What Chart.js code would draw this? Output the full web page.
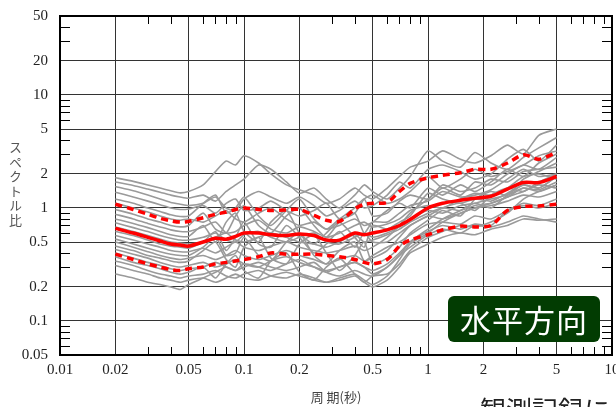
<!DOCTYPE html>
<html>
<head>
<meta charset="utf-8">
<script src="https://cdn.jsdelivr.net/npm/chart.js@4.4.1/dist/chart.umd.min.js"></script>
<style>
body{margin:0;background:#fff;}
#wrap{position:relative;width:616px;height:407px;overflow:hidden;background:#fff;}
#chartSpektrum{position:absolute;left:0;top:0;}
#yTitle{position:absolute;left:6px;top:141px;writing-mode:vertical-rl;font-family:"Noto Sans CJK JP";font-size:13px;letter-spacing:1.5px;color:#555;line-height:18px;}
#label{position:absolute;left:448px;top:296px;width:152px;height:46px;background:#023c02;border-radius:6px;color:#fff;font-family:"Noto Sans CJK JP";font-size:31px;line-height:46px;text-align:center;letter-spacing:1px;}
#note{position:absolute;left:480px;top:394px;font-family:"Noto Sans CJK JP";font-size:26px;line-height:30px;color:#222;white-space:nowrap;}
</style>
</head>
<body>
<div id="wrap">
<canvas id="chartSpektrum" width="616" height="407"></canvas>
<div id="yTitle">スペクトル比</div>
<div id="label">水平方向</div>
<div id="note">観測記録に</div>
</div>
<script>
/* ==========================
   スペクトル比 (水平方向)
========================== */

// --- axes
const tickX = [0.01, 0.02, 0.05, 0.1, 0.2, 0.5, 1, 2, 5, 10];
const labelX = ["0.01", "0.02", "0.05", "0.1", "0.2", "0.5", "1", "2", "5", "10"];
const tickY = [0.05, 0.1, 0.2, 0.5, 1, 2, 5, 10, 20, 50];
const labelY = ["0.05", "0.1", "0.2", "0.5", "1", "2", "5", "10", "20", "50"];
const minorX = [0.03, 0.04, 0.06, 0.07, 0.08, 0.09, 0.3, 0.4, 0.6, 0.7, 0.8, 0.9, 3, 4, 6, 7, 8, 9];
const minorY = [0.06, 0.07, 0.08, 0.09, 0.3, 0.4, 0.6, 0.7, 0.8, 0.9, 3, 4, 6, 7, 8, 9, 30, 40];

// --- periods (sec)
const periods = [0.02, 0.025, 0.03, 0.035, 0.04, 0.045, 0.05, 0.06, 0.07, 0.08, 0.09, 0.1, 0.12, 0.14, 0.17, 0.2, 0.24, 0.28, 0.33, 0.4, 0.45, 0.5, 0.6, 0.7, 0.8, 1.0, 1.2, 1.5, 1.8, 2.2, 2.7, 3.3, 4.0, 5.0];

// --- mean and mean +/- sigma
const meanRatio  = [0.66, 0.60, 0.55, 0.51, 0.48, 0.47, 0.46, 0.50, 0.54, 0.53, 0.56, 0.60, 0.60, 0.58, 0.57, 0.59, 0.57, 0.52, 0.52, 0.60, 0.58, 0.60, 0.64, 0.70, 0.79, 1.00, 1.10, 1.17, 1.22, 1.27, 1.47, 1.68, 1.68, 1.90];
const upperRatio = [1.08, 0.97, 0.88, 0.81, 0.77, 0.75, 0.76, 0.82, 0.88, 0.92, 0.97, 1.00, 0.97, 0.95, 0.96, 0.97, 0.86, 0.78, 0.76, 0.98, 1.08, 1.10, 1.12, 1.40, 1.65, 1.85, 1.95, 2.05, 2.20, 2.20, 2.50, 2.95, 2.70, 3.10];
const lowerRatio = [0.39, 0.35, 0.32, 0.30, 0.285, 0.28, 0.29, 0.30, 0.32, 0.33, 0.34, 0.35, 0.37, 0.40, 0.39, 0.39, 0.39, 0.38, 0.37, 0.35, 0.33, 0.32, 0.35, 0.46, 0.52, 0.58, 0.64, 0.69, 0.68, 0.70, 0.95, 1.03, 1.04, 1.08];

// --- each record
const rec01 = [1.85, 1.72, 1.6, 1.5, 1.42, 1.36, 1.4, 1.6, 2.1, 2.6, 2.4, 2.9, 2.5, 2.0, 1.6, 1.45, 1.3, 1.1, 1.2, 1.5, 1.3, 1.2, 1.5, 1.9, 2.3, 2.6, 3.2, 2.7, 2.5, 2.9, 3.6, 3.0, 4.4, 5.0];
const rec02 = [1.7, 1.58, 1.47, 1.38, 1.3, 1.25, 1.22, 1.3, 1.15, 1.4, 1.6, 1.8, 2.4, 2.2, 1.7, 1.35, 1.5, 1.2, 1.0, 1.3, 1.6, 1.4, 1.2, 1.5, 1.9, 3.2, 2.6, 2.3, 3.1, 2.5, 2.2, 2.8, 3.4, 4.2];
const rec03 = [1.55, 1.42, 1.3, 1.2, 1.12, 1.08, 1.05, 1.1, 1.25, 1.0, 0.95, 1.2, 1.4, 1.25, 1.1, 1.25, 1.05, 0.85, 0.95, 1.15, 1.0, 1.05, 1.3, 1.7, 1.5, 2.2, 2.4, 2.1, 1.8, 2.0, 2.7, 3.3, 2.6, 3.6];
const rec04 = [1.38, 1.25, 1.15, 1.07, 1.0, 0.97, 0.98, 1.05, 0.9, 1.1, 1.2, 0.95, 1.0, 1.15, 0.95, 0.85, 0.95, 1.1, 0.8, 0.9, 1.2, 1.3, 1.1, 1.2, 1.4, 1.9, 1.5, 1.8, 2.2, 1.9, 2.1, 2.4, 2.9, 3.2];
const rec05 = [1.2, 1.1, 1.0, 0.93, 0.87, 0.84, 0.85, 1.1, 1.3, 0.9, 1.0, 1.25, 0.85, 0.7, 0.95, 1.2, 0.8, 0.65, 0.8, 1.0, 1.2, 0.85, 0.9, 1.15, 1.3, 1.2, 1.6, 1.4, 1.5, 1.8, 1.7, 2.1, 2.2, 2.3];
const rec06 = [1.1, 1.0, 0.92, 0.85, 0.8, 0.78, 0.8, 0.75, 0.85, 0.95, 0.8, 0.75, 0.9, 1.0, 0.8, 0.7, 0.75, 0.65, 0.7, 0.8, 0.7, 0.75, 0.95, 1.1, 1.0, 1.5, 1.3, 1.6, 1.4, 1.7, 2.2, 1.9, 2.5, 3.0];
const rec07 = [0.97, 0.88, 0.8, 0.75, 0.7, 0.68, 0.7, 0.9, 0.65, 0.6, 0.85, 1.05, 0.7, 0.6, 0.85, 1.0, 0.7, 0.55, 0.75, 0.9, 0.6, 0.75, 0.75, 0.9, 1.05, 1.15, 1.4, 1.25, 1.3, 1.45, 1.8, 2.2, 1.9, 2.0];
const rec08 = [0.88, 0.8, 0.73, 0.68, 0.64, 0.62, 0.62, 0.68, 0.75, 0.6, 0.62, 0.7, 0.78, 0.65, 0.6, 0.68, 0.62, 0.55, 0.6, 0.7, 0.75, 0.68, 0.72, 0.8, 0.95, 1.05, 1.0, 1.2, 1.35, 1.3, 1.5, 1.9, 2.0, 1.8];
const rec09 = [0.8, 0.73, 0.67, 0.62, 0.58, 0.56, 0.56, 0.7, 0.5, 0.75, 0.9, 0.62, 0.5, 0.75, 0.95, 0.6, 0.48, 0.6, 0.75, 0.55, 0.45, 0.7, 0.65, 0.75, 0.85, 1.35, 1.2, 1.1, 1.2, 1.15, 1.35, 1.6, 1.5, 1.9];
const rec10 = [0.74, 0.67, 0.62, 0.57, 0.54, 0.52, 0.52, 0.55, 0.6, 0.52, 0.5, 0.58, 0.62, 0.55, 0.5, 0.55, 0.6, 0.5, 0.48, 0.55, 0.6, 0.55, 0.6, 0.68, 0.8, 0.95, 0.9, 1.05, 1.1, 1.2, 1.3, 1.5, 1.45, 1.7];
const rec11 = [0.68, 0.62, 0.57, 0.53, 0.5, 0.49, 0.48, 0.5, 0.55, 0.6, 0.52, 0.5, 0.55, 0.6, 0.55, 0.5, 0.48, 0.45, 0.5, 0.58, 0.5, 0.52, 0.58, 0.65, 0.75, 0.9, 1.0, 0.95, 1.05, 1.1, 1.25, 1.4, 1.6, 1.5];
const rec12 = [0.62, 0.57, 0.52, 0.48, 0.46, 0.45, 0.44, 0.5, 0.62, 0.42, 0.55, 0.75, 0.48, 0.45, 0.7, 0.55, 0.4, 0.48, 0.62, 0.45, 0.6, 0.5, 0.5, 0.6, 0.7, 0.85, 0.8, 0.9, 1.0, 1.05, 1.15, 1.3, 1.25, 1.4];
const rec13 = [0.57, 0.52, 0.48, 0.45, 0.42, 0.41, 0.41, 0.44, 0.4, 0.45, 0.5, 0.45, 0.42, 0.46, 0.5, 0.45, 0.42, 0.4, 0.42, 0.46, 0.42, 0.45, 0.55, 0.7, 0.9, 1.2, 1.5, 1.3, 1.7, 1.6, 2.0, 2.4, 2.2, 2.8];
const rec14 = [0.53, 0.48, 0.44, 0.41, 0.39, 0.38, 0.38, 0.45, 0.55, 0.38, 0.4, 0.55, 0.38, 0.34, 0.5, 0.6, 0.38, 0.32, 0.42, 0.5, 0.34, 0.38, 0.45, 0.5, 0.58, 0.72, 0.75, 0.72, 0.85, 0.8, 0.95, 1.1, 1.05, 1.2];
const rec15 = [0.5, 0.45, 0.41, 0.38, 0.36, 0.35, 0.36, 0.38, 0.35, 0.38, 0.42, 0.38, 0.35, 0.38, 0.42, 0.38, 0.35, 0.32, 0.35, 0.38, 0.34, 0.36, 0.42, 0.55, 0.7, 0.85, 1.0, 1.1, 0.95, 1.3, 1.5, 1.4, 1.7, 2.0];
const rec16 = [0.46, 0.42, 0.38, 0.36, 0.34, 0.33, 0.34, 0.42, 0.5, 0.35, 0.3, 0.45, 0.55, 0.36, 0.32, 0.48, 0.58, 0.4, 0.28, 0.38, 0.5, 0.32, 0.36, 0.45, 0.6, 0.78, 0.95, 0.85, 1.2, 1.4, 1.3, 1.8, 2.1, 2.5];
const rec17 = [0.43, 0.39, 0.36, 0.33, 0.31, 0.3, 0.31, 0.33, 0.3, 0.32, 0.35, 0.32, 0.3, 0.34, 0.37, 0.33, 0.3, 0.28, 0.3, 0.33, 0.3, 0.28, 0.32, 0.4, 0.5, 0.62, 0.7, 0.65, 0.72, 0.7, 0.95, 1.05, 1.0, 1.1];
const rec18 = [0.4, 0.36, 0.33, 0.31, 0.29, 0.28, 0.29, 0.3, 0.33, 0.3, 0.28, 0.3, 0.33, 0.3, 0.28, 0.3, 0.33, 0.27, 0.25, 0.28, 0.26, 0.25, 0.3, 0.38, 0.5, 0.65, 0.8, 0.95, 1.1, 1.0, 1.3, 1.6, 1.5, 1.9];
const rec19 = [0.37, 0.33, 0.31, 0.29, 0.27, 0.26, 0.27, 0.3, 0.24, 0.32, 0.38, 0.28, 0.24, 0.34, 0.4, 0.27, 0.23, 0.3, 0.36, 0.26, 0.22, 0.25, 0.26, 0.32, 0.42, 0.55, 0.62, 0.7, 0.68, 0.75, 0.9, 1.2, 1.4, 1.6];
const rec20 = [0.34, 0.31, 0.28, 0.26, 0.25, 0.24, 0.25, 0.26, 0.28, 0.25, 0.24, 0.26, 0.28, 0.25, 0.24, 0.26, 0.24, 0.22, 0.23, 0.25, 0.22, 0.2, 0.23, 0.3, 0.4, 0.48, 0.55, 0.6, 0.58, 0.65, 0.7, 0.8, 0.78, 0.8];
const rec21 = [0.31, 0.28, 0.26, 0.24, 0.23, 0.22, 0.23, 0.24, 0.22, 0.24, 0.26, 0.24, 0.23, 0.25, 0.27, 0.25, 0.23, 0.22, 0.24, 0.26, 0.23, 0.21, 0.25, 0.35, 0.48, 0.6, 0.75, 0.9, 1.0, 1.1, 1.25, 1.5, 1.4, 1.6];
const rec22 = [0.26, 0.24, 0.22, 0.21, 0.2, 0.19, 0.21, 0.24, 0.27, 0.3, 0.28, 0.32, 0.3, 0.28, 0.32, 0.35, 0.3, 0.27, 0.3, 0.33, 0.3, 0.26, 0.3, 0.38, 0.45, 0.58, 0.65, 0.6, 0.7, 0.68, 0.75, 0.85, 0.8, 0.75];

const records = [rec01, rec02, rec03, rec04, rec05, rec06, rec07, rec08, rec09, rec10, rec11, rec12, rec13, rec14, rec15, rec16, rec17, rec18, rec19, rec20, rec21, rec22];

const toPoints = arr => periods.map((p, i) => ({x: p, y: arr[i]}));

// ==========================
// DATASETS
// ==========================

const garisMerah = [
  {data: toPoints(meanRatio), borderColor: "#ff0000", borderWidth: 3.5, order: 0},
  {data: toPoints(upperRatio), borderColor: "#ff0000", borderWidth: 3.5, borderDash: [7, 5], order: 0},
  {data: toPoints(lowerRatio), borderColor: "#ff0000", borderWidth: 3.5, borderDash: [7, 5], order: 0}
];

const garisAbu = records.map(r => ({
  data: toPoints(r), borderColor: "#9a9a9a", borderWidth: 1.6, tension: 0.2, order: 1
}));

// ==========================
// FRAME + MINOR TICKS
// ==========================

const bingkai = {
  id: "bingkai",
  afterDraw(chart) {
    const {ctx, chartArea: a, scales: {x, y}} = chart;
    ctx.save();
    ctx.strokeStyle = "#000";
    ctx.lineWidth = 1;
    ctx.beginPath();
    minorX.forEach(v => {
      const px = Math.round(x.getPixelForValue(v)) + 0.5;
      ctx.moveTo(px, a.bottom); ctx.lineTo(px, a.bottom - 8);
      ctx.moveTo(px, a.top); ctx.lineTo(px, a.top + 8);
    });
    minorY.forEach(v => {
      const py = Math.round(y.getPixelForValue(v)) + 0.5;
      ctx.moveTo(a.left, py); ctx.lineTo(a.left + 10, py);
      ctx.moveTo(a.right, py); ctx.lineTo(a.right - 10, py);
    });
    ctx.stroke();
    ctx.lineWidth = 2;
    ctx.strokeRect(a.left, a.top, a.right - a.left, a.bottom - a.top);
    ctx.restore();
  }
};

const hurufAngka = {family: "Liberation Serif", size: 15};

new Chart(document.getElementById("chartSpektrum"), {
  type: "line",
  data: {datasets: garisMerah.concat(garisAbu)},
  options: {
    responsive: false,
    animation: false,
    devicePixelRatio: 1,
    layout: {padding: {top: 16, right: 4, left: 0, bottom: 0}},
    elements: {point: {radius: 0}, line: {tension: 0.3, fill: false}},
    plugins: {legend: {display: false}, tooltip: {enabled: false}},
    scales: {
      x: {
        type: "logarithmic", min: 0.01, max: 10,
        afterBuildTicks: s => { s.ticks = tickX.map(v => ({value: v})); },
        afterFit: s => { s.height = 52; s.paddingLeft = 0; s.paddingRight = 0; },
        ticks: {autoSkip: false, maxRotation: 0, padding: 6, color: "#222", font: hurufAngka,
                callback: (v, i) => labelX[i]},
        grid: {color: "#333", lineWidth: 1, drawTicks: false},
        border: {display: false},
        title: {display: true, text: "周 期(秒)", color: "#444",
                font: {family: "Noto Sans CJK JP", size: 13}, padding: {top: 0, bottom: 2}}
      },
      y: {
        type: "logarithmic", min: 0.05, max: 50,
        afterBuildTicks: s => { s.ticks = tickY.map(v => ({value: v})); },
        afterFit: s => { s.width = 60; s.paddingTop = 0; s.paddingBottom = 0; },
        ticks: {autoSkip: false, padding: 12, color: "#222", font: hurufAngka,
                callback: (v, i) => labelY[i]},
        grid: {color: "#333", lineWidth: 1, drawTicks: false},
        border: {display: false}
      }
    }
  },
  plugins: [bingkai]
});
</script>
</body>
</html>
